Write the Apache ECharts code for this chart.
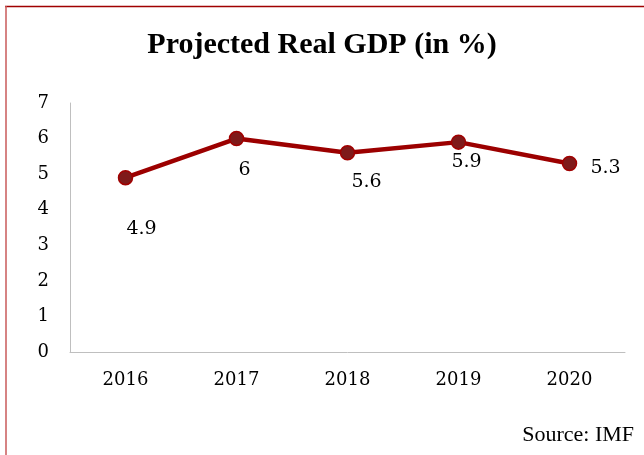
<!DOCTYPE html>
<html>
<head>
<meta charset="utf-8">
<script src="https://cdn.jsdelivr.net/npm/echarts@6/dist/echarts.min.js"></script>
<style>
  html, body { margin: 0; padding: 0; background: #fff; }
  #chart { width: 644px; height: 455px; }
</style>
</head>
<body>
<div id="chart"></div>
<script>
// Projected real GDP growth, per cent
const years = ['2016', '2017', '2018', '2019', '2020'];
const gdpGrowth = [4.9, 6, 5.6, 5.9, 5.3];
const yTicks = [0, 1, 2, 3, 4, 5, 6, 7];

// Where each value label sits relative to its point (pixels)
const labelOffsets = [[16, 51], [8, 31], [19, 29], [8, 20], [36, 5]];

const serif = '"DejaVu Serif", "Liberation Serif", serif';
const chart = echarts.init(document.getElementById('chart'), null, { renderer: 'canvas' });

chart.setOption({
  animation: false,
  backgroundColor: '#fff',
  title: {
    text: 'Projected Real GDP (in %)',
    left: 'center',
    top: 25,
    textStyle: { fontFamily: '"Liberation Serif", serif', fontWeight: 'bold', fontSize: 30, color: '#000' }
  },
  grid: { left: 70, right: 19, top: 103, bottom: 103 },
  xAxis: {
    type: 'category',
    data: years,
    boundaryGap: true,
    axisLine: { lineStyle: { color: '#bfbfbf', width: 1 } },
    axisTick: { show: false },
    axisLabel: { fontFamily: serif, fontSize: 18, color: '#000', margin: 19 }
  },
  yAxis: {
    type: 'value',
    min: yTicks[0],
    max: yTicks[yTicks.length - 1],
    interval: 1,
    axisLine: { show: true, lineStyle: { color: '#bfbfbf', width: 1 } },
    axisTick: { show: false },
    splitLine: { show: false },
    axisLabel: { fontFamily: serif, fontSize: 18, color: '#000', margin: 21 }
  },
  series: [{
    type: 'line',
    data: gdpGrowth.map((v, i) => ({
      value: v,
      label: { offset: labelOffsets[i] }
    })),
    symbol: 'circle',
    symbolSize: 14,
    lineStyle: { color: '#9c0000', width: 4.5 },
    itemStyle: { color: '#7f1a1a', borderColor: '#a00000', borderWidth: 1.5 },
    label: {
      show: true,
      position: 'inside',
      align: 'center',
      verticalAlign: 'middle',
      fontFamily: serif,
      fontSize: 19,
      color: '#000'
    }
  }],
  graphic: [
    { type: 'line', shape: { x1: 5, y1: 6.5, x2: 644, y2: 6.5 }, style: { stroke: '#a00000', lineWidth: 1.5 }, silent: true },
    { type: 'line', shape: { x1: 6, y1: 6, x2: 6, y2: 455 }, style: { stroke: '#c85a5a', lineWidth: 1.5 }, silent: true },
    {
      type: 'text', right: 10, top: 424,
      style: { text: 'Source: IMF', font: '22px "Liberation Serif", serif', fill: '#000' }
    }
  ]
});
</script>
</body>
</html>
